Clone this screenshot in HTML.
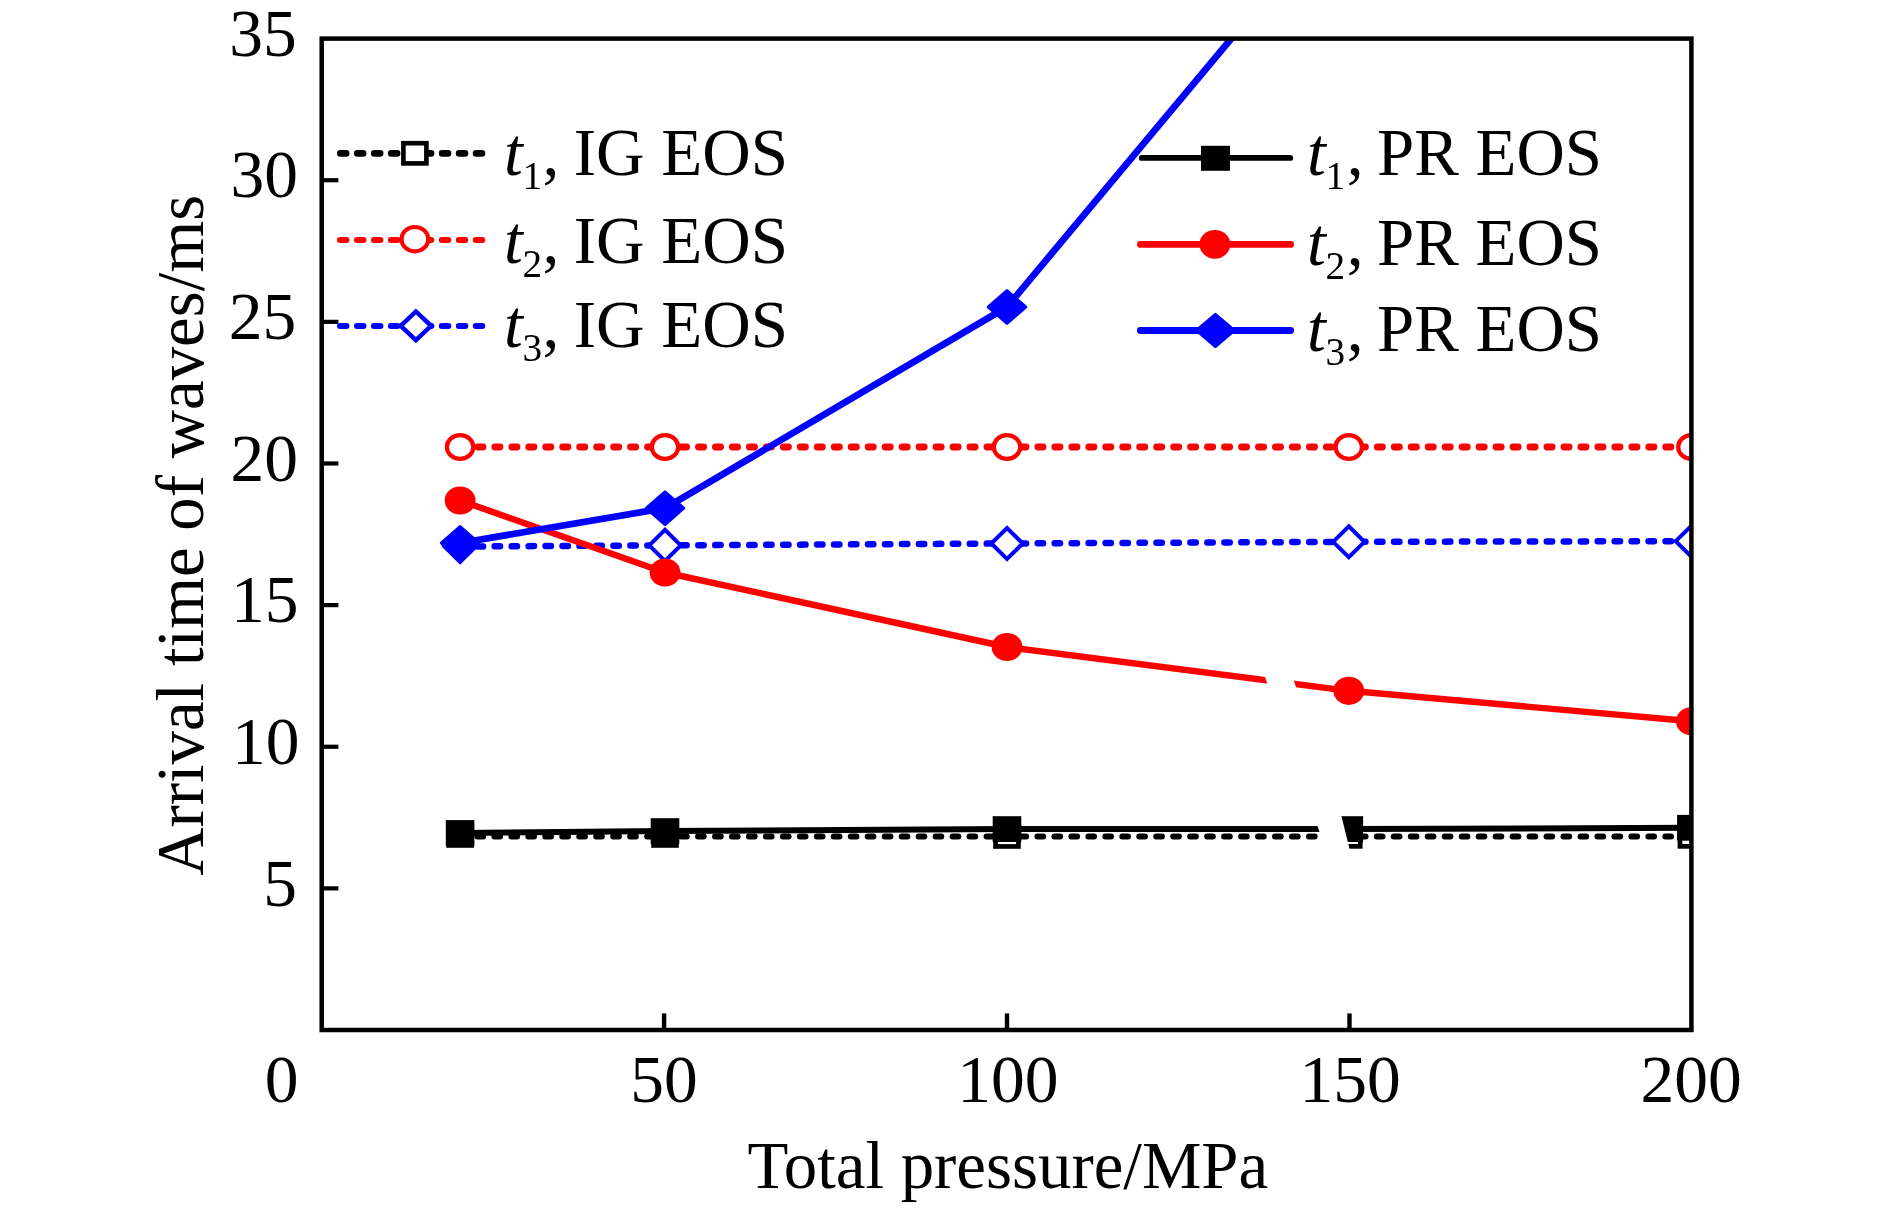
<!DOCTYPE html>
<html><head><meta charset="utf-8"><style>
html,body{margin:0;padding:0;background:#fff;}
svg{display:block;will-change:transform;}
text{font-family:"Liberation Serif",serif;fill:#000;}
</style></head><body>
<svg width="1890" height="1208" viewBox="0 0 1890 1208">
<rect width="1890" height="1208" fill="#fff"/>
<defs><clipPath id="pc"><rect x="321.7" y="38.6" width="1369.7" height="991.4"/></clipPath></defs>
<g clip-path="url(#pc)">
<polyline points="460.10,836.60 665.00,836.60 1007.00,836.60 1348.80,836.60 1691.40,836.60" fill="none" stroke="#000000" stroke-width="6" stroke-dasharray="5.70 11.27" stroke-dashoffset="16.62" stroke-linecap="round"/>
<polyline points="460.10,447.00 665.00,447.00 1007.00,447.00 1348.80,447.00 1691.40,447.00" fill="none" stroke="#ff0000" stroke-width="6.8" stroke-dasharray="5.20 11.77" stroke-dashoffset="16.22" stroke-linecap="round"/>
<polyline points="460.10,546.50 665.00,545.40 1007.00,543.50 1348.80,541.80 1691.40,541.20" fill="none" stroke="#0000ff" stroke-width="6.5" stroke-dasharray="5.40 11.57" stroke-dashoffset="16.37" stroke-linecap="round"/>
<rect x="448.65" y="824.95" width="22.90" height="20.50" fill="#fff" stroke="#000000" stroke-width="4.7"/>
<rect x="653.55" y="824.95" width="22.90" height="20.50" fill="#fff" stroke="#000000" stroke-width="4.7"/>
<rect x="995.55" y="825.95" width="22.90" height="20.50" fill="#fff" stroke="#000000" stroke-width="4.7"/>
<rect x="1337.35" y="825.85" width="22.90" height="20.50" fill="#fff" stroke="#000000" stroke-width="4.7"/>
<rect x="1679.95" y="825.85" width="22.90" height="20.50" fill="#fff" stroke="#000000" stroke-width="4.7"/>
<ellipse cx="460.10" cy="447.00" rx="13.20" ry="11.90" fill="#fff" stroke="#ff0000" stroke-width="4.2"/>
<ellipse cx="665.00" cy="447.00" rx="13.20" ry="11.90" fill="#fff" stroke="#ff0000" stroke-width="4.2"/>
<ellipse cx="1007.00" cy="447.00" rx="13.20" ry="11.90" fill="#fff" stroke="#ff0000" stroke-width="4.2"/>
<ellipse cx="1348.80" cy="447.00" rx="13.20" ry="11.90" fill="#fff" stroke="#ff0000" stroke-width="4.2"/>
<ellipse cx="1691.40" cy="447.00" rx="13.20" ry="11.90" fill="#fff" stroke="#ff0000" stroke-width="4.2"/>
<polygon points="444.43,546.50 460.10,531.03 475.77,546.50 460.10,561.97" fill="#fff" stroke="#0000ff" stroke-width="4.0" stroke-linejoin="miter"/>
<polygon points="649.33,545.40 665.00,529.93 680.67,545.40 665.00,560.87" fill="#fff" stroke="#0000ff" stroke-width="4.0" stroke-linejoin="miter"/>
<polygon points="991.33,543.50 1007.00,528.03 1022.67,543.50 1007.00,558.97" fill="#fff" stroke="#0000ff" stroke-width="4.0" stroke-linejoin="miter"/>
<polygon points="1333.13,541.80 1348.80,526.33 1364.47,541.80 1348.80,557.27" fill="#fff" stroke="#0000ff" stroke-width="4.0" stroke-linejoin="miter"/>
<polygon points="1675.73,541.20 1691.40,525.73 1707.07,541.20 1691.40,556.67" fill="#fff" stroke="#0000ff" stroke-width="4.0" stroke-linejoin="miter"/>
<polyline points="460.10,833.00 665.00,831.10 1007.00,829.10 1348.80,829.10 1691.40,827.80" fill="none" stroke="#000000" stroke-width="6" stroke-linejoin="round"/>
<polyline points="460.10,500.50 665.00,572.50 1007.00,647.00 1348.80,690.80 1691.40,721.30" fill="none" stroke="#ff0000" stroke-width="6.4" stroke-linejoin="round"/>
<polyline points="460.10,543.00 665.00,508.20 1007.00,307.00 1348.80,-102.00" fill="none" stroke="#0000ff" stroke-width="6.8" stroke-linejoin="round"/>
<rect x="445.80" y="820.10" width="28.60" height="25.80" fill="#000000"/>
<rect x="650.70" y="818.20" width="28.60" height="25.80" fill="#000000"/>
<rect x="992.70" y="816.20" width="28.60" height="25.80" fill="#000000"/>
<rect x="1334.50" y="816.20" width="28.60" height="25.80" fill="#000000"/>
<rect x="1677.10" y="814.90" width="28.60" height="25.80" fill="#000000"/>
<ellipse cx="460.10" cy="500.50" rx="15.40" ry="14.10" fill="#ff0000"/>
<ellipse cx="665.00" cy="572.50" rx="15.40" ry="14.10" fill="#ff0000"/>
<ellipse cx="1007.00" cy="647.00" rx="15.40" ry="14.10" fill="#ff0000"/>
<ellipse cx="1348.80" cy="690.80" rx="15.40" ry="14.10" fill="#ff0000"/>
<ellipse cx="1691.40" cy="721.30" rx="15.40" ry="14.10" fill="#ff0000"/>
<polygon points="441.40,543.00 460.10,526.60 478.80,543.00 460.10,559.40" fill="#0000ff" stroke="#0000ff" stroke-width="3" stroke-linejoin="round"/>
<polygon points="646.30,508.20 665.00,491.80 683.70,508.20 665.00,524.60" fill="#0000ff" stroke="#0000ff" stroke-width="3" stroke-linejoin="round"/>
<polygon points="988.30,307.00 1007.00,290.60 1025.70,307.00 1007.00,323.40" fill="#0000ff" stroke="#0000ff" stroke-width="3" stroke-linejoin="round"/>
<polygon points="1259.7,662 1287.3,662 1295,684 1341.4,816 1349.3,848 1352.5,858 1328.7,858" fill="#fff"/>
</g>
<rect x="321.7" y="38.6" width="1369.7" height="991.4" fill="none" stroke="#000" stroke-width="4.5"/>
<line x1="321.7" y1="888.37" x2="338.4" y2="888.37" stroke="#000" stroke-width="4.2"/>
<line x1="321.7" y1="746.74" x2="338.4" y2="746.74" stroke="#000" stroke-width="4.2"/>
<line x1="321.7" y1="605.11" x2="338.4" y2="605.11" stroke="#000" stroke-width="4.2"/>
<line x1="321.7" y1="463.48" x2="338.4" y2="463.48" stroke="#000" stroke-width="4.2"/>
<line x1="321.7" y1="321.85" x2="338.4" y2="321.85" stroke="#000" stroke-width="4.2"/>
<line x1="321.7" y1="180.22" x2="338.4" y2="180.22" stroke="#000" stroke-width="4.2"/>
<line x1="664.10" y1="1030" x2="664.10" y2="1013.4" stroke="#000" stroke-width="4.4"/>
<line x1="1007.00" y1="1030" x2="1007.00" y2="1013.4" stroke="#000" stroke-width="4.4"/>
<line x1="1349.50" y1="1030" x2="1349.50" y2="1013.4" stroke="#000" stroke-width="4.4"/>
<text x="280.1" y="905.57" font-family="Liberation Serif" font-size="67.5" text-anchor="middle">5</text>
<text x="265.85" y="763.94" font-family="Liberation Serif" font-size="67.5" text-anchor="middle">10</text>
<text x="264.65" y="622.31" font-family="Liberation Serif" font-size="67.5" text-anchor="middle">15</text>
<text x="264.25" y="480.68" font-family="Liberation Serif" font-size="67.5" text-anchor="middle">20</text>
<text x="262.5" y="339.05" font-family="Liberation Serif" font-size="67.5" text-anchor="middle">25</text>
<text x="264.37" y="197.42" font-family="Liberation Serif" font-size="67.5" text-anchor="middle">30</text>
<text x="263.05" y="55.79" font-family="Liberation Serif" font-size="67.5" text-anchor="middle">35</text>
<text x="281.7" y="1101.7" font-family="Liberation Serif" font-size="67.5" text-anchor="middle">0</text>
<text x="663.9" y="1101.7" font-family="Liberation Serif" font-size="67.5" text-anchor="middle">50</text>
<text x="1007.8" y="1101.7" font-family="Liberation Serif" font-size="67.5" text-anchor="middle">100</text>
<text x="1350.2" y="1101.7" font-family="Liberation Serif" font-size="67.5" text-anchor="middle">150</text>
<text x="1691.05" y="1101.7" font-family="Liberation Serif" font-size="67.5" text-anchor="middle">200</text>
<text x="1007.9" y="1187.8" font-family="Liberation Serif" font-size="66.83" text-anchor="middle">Total pressure/MPa</text>
<text transform="translate(203.2,535.25) rotate(-90)" font-family="Liberation Serif" font-size="66.83" text-anchor="middle">Arrival time of waves/ms</text>
<line x1="340.30" y1="153.4" x2="482.60" y2="153.4" stroke="#000000" stroke-width="6.6" stroke-dasharray="5.90 11.07" stroke-dashoffset="0.00" stroke-linecap="round"/>
<rect x="403.40" y="143.20" width="23.00" height="20.20" fill="#fff" stroke="#000000" stroke-width="4.6"/>
<line x1="340.00" y1="239.9" x2="482.90" y2="239.9" stroke="#ff0000" stroke-width="6.0" stroke-dasharray="6.50 10.47" stroke-dashoffset="0.00" stroke-linecap="round"/>
<ellipse cx="414.90" cy="239.20" rx="13.30" ry="12.20" fill="#fff" stroke="#ff0000" stroke-width="4.2"/>
<line x1="340.00" y1="326.0" x2="482.90" y2="326.0" stroke="#0000ff" stroke-width="6.0" stroke-dasharray="6.50 10.47" stroke-dashoffset="0.00" stroke-linecap="round"/>
<polygon points="400.68,325.80 415.90,311.48 431.12,325.80 415.90,340.12" fill="#fff" stroke="#0000ff" stroke-width="4.5" stroke-linejoin="miter"/>
<line x1="1141.80" y1="157.9" x2="1290.20" y2="157.9" stroke="#000000" stroke-width="5.9" stroke-linecap="round"/>
<rect x="1201.00" y="145.80" width="29.00" height="25.00" fill="#000000"/>
<line x1="1140.40" y1="244.4" x2="1290.60" y2="244.4" stroke="#ff0000" stroke-width="6.8" stroke-linecap="round"/>
<ellipse cx="1214.90" cy="244.30" rx="15.40" ry="14.40" fill="#ff0000"/>
<line x1="1140.40" y1="330.45" x2="1290.60" y2="330.45" stroke="#0000ff" stroke-width="6.9" stroke-linecap="round"/>
<polygon points="1196.50,330.40 1215.40,314.30 1234.30,330.40 1215.40,346.50" fill="#0000ff" stroke="#0000ff" stroke-width="3" stroke-linejoin="round"/>
<text x="504.03" y="175.05" font-family="Liberation Serif" font-style="italic" font-size="67.5">t</text><text x="522.50" y="188.95" font-family="Liberation Serif" font-size="39.3">1</text><text x="542.40" y="175.05" font-family="Liberation Serif" font-size="67.5">,</text><text x="573.67" y="175.05" font-family="Liberation Serif" font-size="67.15">IG EOS</text>
<text x="504.03" y="263.10" font-family="Liberation Serif" font-style="italic" font-size="67.5">t</text><text x="522.50" y="277.00" font-family="Liberation Serif" font-size="39.3">2</text><text x="542.40" y="263.10" font-family="Liberation Serif" font-size="67.5">,</text><text x="573.67" y="263.10" font-family="Liberation Serif" font-size="67.15">IG EOS</text>
<text x="504.03" y="347.10" font-family="Liberation Serif" font-style="italic" font-size="67.5">t</text><text x="522.50" y="361.00" font-family="Liberation Serif" font-size="39.3">3</text><text x="542.40" y="347.10" font-family="Liberation Serif" font-size="67.5">,</text><text x="573.67" y="347.10" font-family="Liberation Serif" font-size="67.15">IG EOS</text>
<text x="1306.93" y="175.05" font-family="Liberation Serif" font-style="italic" font-size="67.5">t</text><text x="1325.40" y="188.95" font-family="Liberation Serif" font-size="39.3">1</text><text x="1346.66" y="175.05" font-family="Liberation Serif" font-size="67.5">,</text><text x="1376.97" y="175.05" font-family="Liberation Serif" font-size="66.91">PR EOS</text>
<text x="1306.93" y="265.05" font-family="Liberation Serif" font-style="italic" font-size="67.5">t</text><text x="1325.40" y="278.95" font-family="Liberation Serif" font-size="39.3">2</text><text x="1346.66" y="265.05" font-family="Liberation Serif" font-size="67.5">,</text><text x="1376.97" y="265.05" font-family="Liberation Serif" font-size="66.91">PR EOS</text>
<text x="1306.93" y="350.90" font-family="Liberation Serif" font-style="italic" font-size="67.5">t</text><text x="1325.40" y="364.80" font-family="Liberation Serif" font-size="39.3">3</text><text x="1346.66" y="350.90" font-family="Liberation Serif" font-size="67.5">,</text><text x="1376.97" y="350.90" font-family="Liberation Serif" font-size="66.91">PR EOS</text>
</svg>
</body></html>
